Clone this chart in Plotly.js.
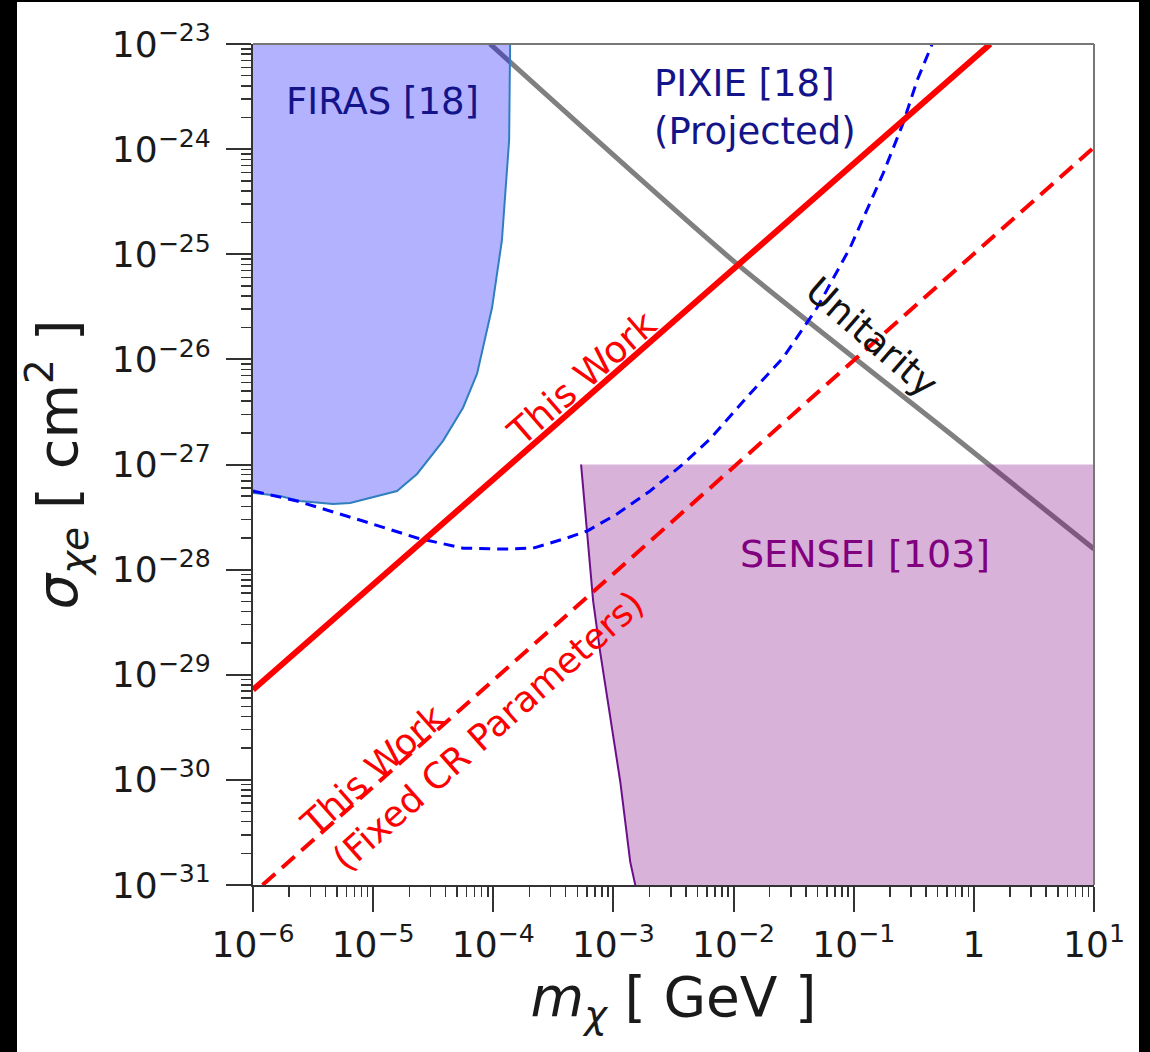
<!DOCTYPE html>
<html><head><meta charset="utf-8">
<script src="https://cdn.plot.ly/plotly-3.0.1.min.js"></script>
<style>
html,body{margin:0;padding:0;background:#000;width:1150px;height:1052px;overflow:hidden}
#chart{position:absolute;left:17px;top:2px;width:1122px;height:1050px;background:#fff}
</style></head><body><div id="chart"></div>
<script>
// ---- data (m in GeV, sigma in cm^2) ----
const xDecades = [1e-6, 1e-5, 1e-4, 1e-3, 1e-2, 1e-1, 1, 10];
const xTickText = ['10<sup>−6</sup>','10<sup>−5</sup>','10<sup>−4</sup>','10<sup>−3</sup>','10<sup>−2</sup>','10<sup>−1</sup>','1','10<sup>1</sup>'];
const yDecades = [1e-31,1e-30,1e-29,1e-28,1e-27,1e-26,1e-25,1e-24,1e-23];
const yTickText = ['10<sup>−31</sup>','10<sup>−30</sup>','10<sup>−29</sup>','10<sup>−28</sup>','10<sup>−27</sup>','10<sup>−26</sup>','10<sup>−25</sup>','10<sup>−24</sup>','10<sup>−23</sup>'];

const firasM     = [1.38e-4, 1.355e-4, 1.18e-4, 9.77e-5, 7.33e-5, 5.6e-5, 3.82e-5, 2.32e-5, 1.58e-5, 6.43e-6, 4.63e-6, 2.46e-6, 1.68e-6, 1e-6];
const firasSigma = [1e-23, 1.22e-24, 1.36e-25, 3.11e-26, 7.31e-27, 3.47e-27, 1.68e-27, 8.13e-28, 5.6e-28, 4.31e-28, 4.21e-28, 4.5e-28, 5.02e-28, 5.36e-28];

const pixieM     = [1e-6, 2.32e-6, 8.24e-6, 2.32e-5, 5.61e-5, 1.21e-4, 2.14e-4, 4.11e-4, 6.04e-4, 1.07e-3, 2.02e-3, 3.8e-3, 6.38e-3, 1.37e-2, 2.59e-2, 4.97e-2, 9.35e-2, 0.176, 0.258, 0.338, 0.450];
const pixieSigma = [5.6e-28, 4.5e-28, 2.9e-28, 2.0e-28, 1.6e-28, 1.57e-28, 1.6e-28, 2.0e-28, 2.33e-28, 3.38e-28, 5.6e-28, 1.01e-27, 1.75e-27, 4.71e-27, 1.04e-26, 3.11e-26, 1.16e-25, 5.89e-25, 1.77e-24, 4.54e-24, 1e-23];

const senseiM     = [5.38e-4, 6.04e-4, 6.78e-4, 7.74e-4, 9.03e-4, 1.14e-3, 1.38e-3, 1.52e-3];
const senseiSigma = [1e-27, 2.18e-28, 5.01e-29, 1.67e-29, 5.57e-30, 9.6e-31, 1.66e-31, 1e-31];

const unitarityM     = [9.4e-5, 1.03e-2, 0.637, 10];
const unitaritySigma = [1e-23, 8.36e-26, 1.96e-27, 1.57e-28];

const thisWorkM     = [1e-6, 1.37];
const thisWorkSigma = [7.2e-30, 1e-23];

const fixedCRM     = [1.2e-6, 10];
const fixedCRSigma = [1e-31, 1.04e-24];

// ---- axis extents ----
const X_MIN = 1e-6, X_MAX = 10, Y_MIN = 1e-31, Y_MAX = 1e-23;

function minorTicks(lo, hi) {
  const out = [];
  for (let k = lo; k < hi; k++) for (let d = 2; d <= 9; d++) out.push(d * Math.pow(10, k));
  return out;
}

const FONT = 'DejaVu Sans, Verdana, sans-serif';

const traces = [
  { x: unitarityM, y: unitaritySigma, mode: 'lines', line: {color: '#808080', width: 5, shape: 'spline', smoothing: 0.6}, hoverinfo: 'skip' },
  { x: firasM.concat([X_MIN]), y: firasSigma.concat([Y_MAX]), mode: 'lines', fill: 'toself',
    fillcolor: 'rgba(0,0,255,0.3)', line: {width: 0}, hoverinfo: 'skip' },
  { x: senseiM.concat([X_MAX, X_MAX]), y: senseiSigma.concat([Y_MIN, senseiSigma[0]]), mode: 'lines', fill: 'toself',
    fillcolor: 'rgba(128,0,128,0.3)', line: {width: 0}, hoverinfo: 'skip' },
  { x: firasM, y: firasSigma, mode: 'lines', line: {color: '#2f7fbf', width: 2}, hoverinfo: 'skip' },
  { x: senseiM, y: senseiSigma, mode: 'lines', line: {color: '#6b0f8a', width: 2}, hoverinfo: 'skip' },
  { x: pixieM, y: pixieSigma, mode: 'lines', line: {color: '#0000ff', width: 3, dash: '11px,7px'}, hoverinfo: 'skip' },
  { x: thisWorkM, y: thisWorkSigma, mode: 'lines', line: {color: '#ff0000', width: 6}, hoverinfo: 'skip' },
  { x: fixedCRM, y: fixedCRSigma, mode: 'lines', line: {color: '#ff0000', width: 4, dash: '17px,9px'}, hoverinfo: 'skip' }
];

const axisCommon = {
  type: 'log', tickmode: 'array', ticks: 'outside', ticklen: 25, tickwidth: 2, tickcolor: '#333',
  showline: true, linecolor: '#333', linewidth: 2, showgrid: false, zeroline: false,
  tickfont: {family: FONT, size: 36, color: '#1a1a1a'}
};

const layout = {
  width: 1122, height: 1050,
  margin: {l: 236, r: 45, t: 42, b: 167},
  paper_bgcolor: '#ffffff', plot_bgcolor: '#ffffff',
  showlegend: false,
  font: {family: FONT, color: '#1a1a1a'},
  xaxis: Object.assign({}, axisCommon, {
    range: [Math.log10(X_MIN), Math.log10(X_MAX)],
    tickvals: xDecades, ticktext: xTickText, ticklabelstandoff: 2,
    minor: {tickmode: 'array', tickvals: minorTicks(-6, 1), ticks: 'outside', ticklen: 10, tickwidth: 1.5, tickcolor: '#333', showgrid: false},
    title: {text: '<i>m</i><sub><i>χ</i></sub> [ GeV ]', font: {family: FONT, size: 55, color: '#1a1a1a'}, standoff: 8}
  }),
  yaxis: Object.assign({}, axisCommon, {
    range: [Math.log10(Y_MIN), Math.log10(Y_MAX)],
    tickvals: yDecades, ticktext: yTickText, ticklabelstandoff: 8,
    minor: {tickmode: 'array', tickvals: minorTicks(-31, -23), ticks: 'outside', ticklen: 10, tickwidth: 1.5, tickcolor: '#333', showgrid: false},
    title: {text: '<i>σ</i><sub><i>χe</i></sub> [ cm<sup>2</sup> ]', font: {family: FONT, size: 56, color: '#1a1a1a'}, standoff: 18}
  }),
  shapes: [
    {type: 'line', xref: 'paper', yref: 'paper', x0: 0, x1: 1, y0: 1, y1: 1, line: {color: '#777', width: 2}},
    {type: 'line', xref: 'paper', yref: 'paper', x0: 1, x1: 1, y0: 0, y1: 1, line: {color: '#777', width: 2}}
  ],
  annotations: [
    {x: -4.926, y: -23.55, xref: 'x', yref: 'y', text: 'FIRAS [18]', showarrow: false,
     font: {family: FONT, size: 37, color: '#14148a'}},
    {x: -2.678, y: -23.6, xref: 'x', yref: 'y', xanchor: 'left', align: 'left', text: 'PIXIE [18]<br>(Projected)', showarrow: false,
     font: {family: FONT, size: 37, color: '#14148a'}},
    {x: -0.904, y: -27.85, xref: 'x', yref: 'y', text: 'SENSEI [103]', showarrow: false,
     font: {family: FONT, size: 38, color: '#800080'}},
    {x: -3.261, y: -26.184, xref: 'x', yref: 'y', text: 'This Work', textangle: -41, showarrow: false,
     font: {family: FONT, size: 37, color: '#ff0000'}},
    {x: -4.176, y: -29.378, xref: 'x', yref: 'y', text: 'This Work<br>(Fixed CR Parameters)', align: 'left', textangle: -41.5, showarrow: false,
     font: {family: FONT, size: 36, color: '#ff0000'}},
    {x: -0.846, y: -25.79, xref: 'x', yref: 'y', text: 'Unitarity', textangle: 41, showarrow: false,
     font: {family: FONT, size: 37, color: '#111'}}
  ]
};

Plotly.newPlot('chart', traces, layout, {staticPlot: true, displayModeBar: false});
</script></body></html>
